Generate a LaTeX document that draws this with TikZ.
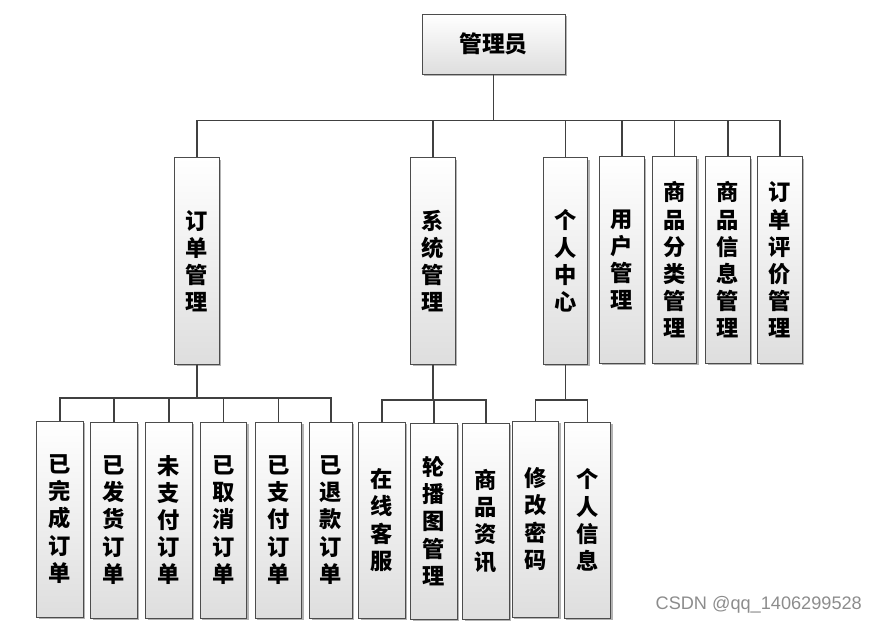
\documentclass[tikz,border=0pt]{standalone}
\usepackage{fontspec}
\newfontfamily\cjk{Noto Sans CJK SC}
\newfontfamily\wmfont{Liberation Sans}
\usetikzlibrary{shadows}

\tikzset{
  box/.style={draw=black!70, line width=0.8pt, top color=white, bottom color=black!13,
    drop shadow={shadow xshift=1.6pt, shadow yshift=-1.6pt, fill=black!50, opacity=0.6},
    font=\cjk\bfseries\fontsize{19}{23.2}\selectfont, align=center, inner sep=0pt},
  midbox/.style={box, minimum width=1.34cm, minimum height=6.2cm},
  leafbox/.style={box, minimum width=1.4cm, minimum height=5.88cm},
  link/.style={draw=black!75, line width=1.3pt},
}

\begin{document}
\begin{tikzpicture}[x=0.03cm, y=-0.03cm]
  \useasboundingbox (0,0) rectangle (881,625);

  % root
  \node[box, minimum width=4.29cm, minimum height=1.8cm,
    font=\cjk\bfseries\fontsize{19.5}{22}\selectfont] (admin) at (493.5,44) {管理员};

  % second level
  \node[midbox] (order) at (197,261) {订\\单\\管\\理};
  \node[midbox] (sys) at (433,261) {系\\统\\管\\理};
  \node[midbox] (self) at (565.5,261) {个\\人\\中\\心};
  \node[midbox] (user) at (622,260) {用\\户\\管\\理};
  \node[midbox] (cat) at (674.5,260) {商\\品\\分\\类\\管\\理};
  \node[midbox] (goods) at (728,260) {商\\品\\信\\息\\管\\理};
  \node[midbox] (review) at (780,260) {订\\单\\评\\价\\管\\理};

  % order leaves
  \node[leafbox] (done) at (60,519) {已\\完\\成\\订\\单};
  \node[leafbox] (shipped) at (114,520) {已\\发\\货\\订\\单};
  \node[leafbox] (unpaid) at (169,520) {未\\支\\付\\订\\单};
  \node[leafbox] (cancel) at (223.5,520) {已\\取\\消\\订\\单};
  \node[leafbox] (paid) at (278.5,520) {已\\支\\付\\订\\单};
  \node[leafbox, minimum width=1.28cm] (refund) at (331,520) {已\\退\\款\\订\\单};

  % system leaves
  \node[leafbox] (chat) at (382,520) {在\\线\\客\\服};
  \node[leafbox] (banner) at (434,521) {轮\\播\\图\\管\\理};
  \node[leafbox] (news) at (486,521) {商\\品\\资\\讯};

  % personal leaves
  \node[leafbox] (pwd) at (535.5,519) {修\\改\\密\\码};
  \node[leafbox] (info) at (587.5,520) {个\\人\\信\\息};

  % connectors
  \foreach \c in {order,sys,self,user,cat,goods,review}
    \draw[link] (admin.south) -- ++(0,46) -| (\c.north);
  \foreach \c in {done,shipped,unpaid,cancel,paid,refund}
    \draw[link] (order.south) -- ++(0,33) -| (\c.north);
  \foreach \c in {chat,banner,news}
    \draw[link] (sys.south) -- ++(0,35) -| (\c.north);
  \foreach \c in {pwd,info}
    \draw[link] (self.south) -- ++(0,35) -| (\c.north);

  % watermark
  \node[text=black!45, font=\wmfont\fontsize{15.5}{15.5}\selectfont, anchor=east] (mark)
    at (866,605) {CSDN @qq\_1406299528};
\end{tikzpicture}
\end{document}
